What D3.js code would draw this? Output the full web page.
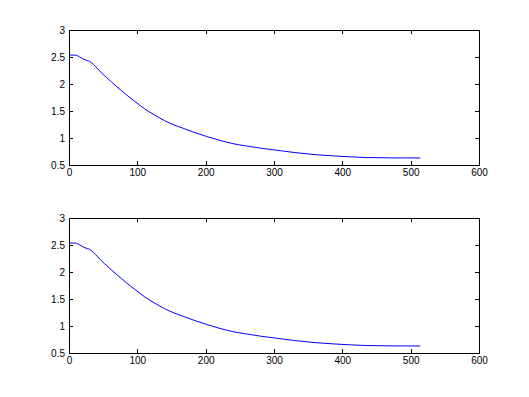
<!DOCTYPE html>
<html><head><meta charset="utf-8">
<script src="https://cdn.jsdelivr.net/npm/d3@7"></script>
<style>
body{margin:0;background:#fff;}
svg{display:block;}
.ax text{font-family:"Liberation Sans",Arial,sans-serif;font-size:10px;fill:#000;}
.ax path,.ax line{stroke:#000;shape-rendering:crispEdges;}
</style></head>
<body>
<script>
const xTicks = [0, 100, 200, 300, 400, 500, 600];
const yTicks = [0.5, 1, 1.5, 2, 2.5, 3];
const xValues = [1, 9, 18, 25, 30, 36, 42, 48, 55, 62, 70, 77, 84, 97, 111, 126, 140, 155, 167, 182, 201, 221, 240, 260, 280, 301, 331, 360, 389, 410, 436, 470, 514];
const series1 = [2.537, 2.535, 2.485, 2.44, 2.42, 2.36, 2.28, 2.20, 2.12, 2.04, 1.95, 1.876, 1.80, 1.672, 1.537, 1.42, 1.32, 1.235, 1.18, 1.11, 1.03, 0.955, 0.895, 0.852, 0.812, 0.778, 0.73, 0.692, 0.667, 0.652, 0.638, 0.632, 0.63];
const series2 = [2.537, 2.535, 2.485, 2.44, 2.42, 2.36, 2.28, 2.20, 2.12, 2.04, 1.95, 1.876, 1.80, 1.672, 1.537, 1.42, 1.32, 1.235, 1.18, 1.11, 1.03, 0.955, 0.895, 0.852, 0.812, 0.778, 0.73, 0.692, 0.667, 0.652, 0.638, 0.632, 0.63];

const W = 529, H = 397;
const svg = d3.select("body").append("svg").attr("width", W).attr("height", H);

function panel(top, bottom, values) {
  const x = d3.scaleLinear().domain([0, 600]).range([69, 479]);
  const y = d3.scaleLinear().domain([0.5, 3]).range([bottom, top]);
  const g = svg.append("g");
  g.append("g").attr("class", "ax").attr("transform", `translate(0,${bottom})`)
    .call(d3.axisBottom(x).tickValues(xTicks).tickFormat(d3.format("d")).tickSize(-4).tickSizeOuter(0))
    .call(s => s.selectAll("text").attr("dy", "0.71em").attr("y", 4));
  g.append("g").attr("class", "ax").attr("transform", `translate(0,${top})`)
    .call(d3.axisTop(x).tickValues(xTicks).tickSize(-4).tickSizeOuter(0).tickFormat(""));
  g.append("g").attr("class", "ax").attr("transform", `translate(69,0)`)
    .call(d3.axisLeft(y).tickValues(yTicks).tickFormat(d => String(d)).tickSize(-4).tickSizeOuter(0))
    .call(s => s.selectAll("text").attr("x", -4));
  g.append("g").attr("class", "ax").attr("transform", `translate(479,0)`)
    .call(d3.axisRight(y).tickValues(yTicks).tickSize(-4).tickSizeOuter(0).tickFormat(""));
  const line = d3.line().curve(d3.curveMonotoneX).x((d, i) => x(xValues[i])).y(d => y(d));
  g.append("path").datum(values).attr("d", line)
    .attr("fill", "none").attr("stroke", "#0000ff").attr("stroke-width", 1);
}
panel(30, 165, series1);
panel(218, 353, series2);
</script>
</body></html>
